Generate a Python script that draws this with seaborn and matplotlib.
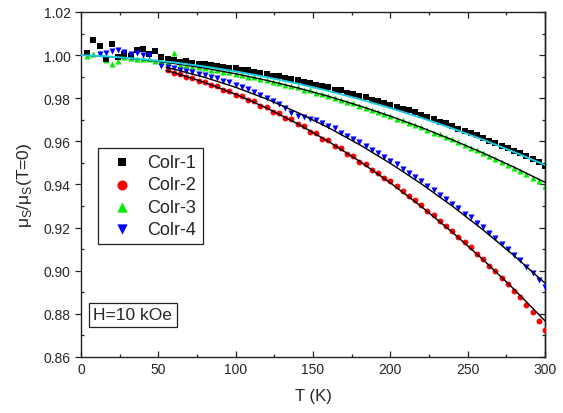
import numpy as np
import pandas as pd
import matplotlib
matplotlib.use("Agg")
import matplotlib.pyplot as plt
import seaborn as sns
from matplotlib.ticker import MultipleLocator, FormatStrFormatter

# measured points (T in K, mu_S / mu_S(T=0))
t_13 = np.arange(4, 301, 4)
colr1 = [1.0008, 1.0072, 1.0044, 0.9982, 1.0052, 0.9993, 1.0003, 0.9995, 1.0026, 1.0029,
         1.0005, 1.0021, 0.9990, 0.9981, 0.9978, 0.9968, 0.9975, 0.9962, 0.9958, 0.9960,
         0.9952, 0.9950, 0.9944, 0.9942, 0.9941, 0.9931, 0.9932, 0.9921, 0.9918, 0.9913,
         0.9905, 0.9903, 0.9893, 0.9890, 0.9884, 0.9875, 0.9872, 0.9862, 0.9858, 0.9850,
         0.9840, 0.9838, 0.9826, 0.9820, 0.9812, 0.9805, 0.9792, 0.9788, 0.9778, 0.9770,
         0.9761, 0.9752, 0.9744, 0.9735, 0.9722, 0.9713, 0.9704, 0.9690, 0.9683, 0.9671,
         0.9658, 0.9650, 0.9637, 0.9628, 0.9615, 0.9604, 0.9592, 0.9580, 0.9570, 0.9556,
         0.9545, 0.9530, 0.9519, 0.9505, 0.9488]
colr3 = [0.9998, 1.0006, 1.0012, 0.9976, 0.9961, 0.9972, 0.9993, 0.9986, 0.9980, 0.9981,
         0.9984, 0.9975, 0.9971, 0.9968, 1.0010, 0.9952, 0.9956, 0.9946, 0.9945, 0.9938,
         0.9933, 0.9931, 0.9922, 0.9921, 0.9911, 0.9909, 0.9900, 0.9898, 0.9888, 0.9885,
         0.9874, 0.9872, 0.9862, 0.9857, 0.9850, 0.9840, 0.9836, 0.9824, 0.9819, 0.9810,
         0.9799, 0.9794, 0.9781, 0.9776, 0.9764, 0.9757, 0.9745, 0.9738, 0.9726, 0.9718,
         0.9706, 0.9698, 0.9685, 0.9677, 0.9665, 0.9655, 0.9641, 0.9633, 0.9618, 0.9609,
         0.9595, 0.9585, 0.9570, 0.9560, 0.9544, 0.9534, 0.9518, 0.9505, 0.9490, 0.9476,
         0.9462, 0.9447, 0.9432, 0.9414, 0.9393]

t_2 = np.arange(56, 301, 4)
colr2 = [0.9929, 0.9915, 0.9913, 0.9897, 0.9895, 0.9880, 0.9876, 0.9861, 0.9856, 0.9838,
         0.9834, 0.9815, 0.9810, 0.9791, 0.9785, 0.9766, 0.9760, 0.9738, 0.9731, 0.9708,
         0.9702, 0.9679, 0.9673, 0.9645, 0.9640, 0.9612, 0.9608, 0.9577, 0.9571, 0.9542,
         0.9534, 0.9506, 0.9497, 0.9468, 0.9455, 0.9432, 0.9414, 0.9392, 0.9371, 0.9346,
         0.9327, 0.9303, 0.9279, 0.9257, 0.9231, 0.9208, 0.9184, 0.9158, 0.9131, 0.9108,
         0.9078, 0.9054, 0.9022, 0.8998, 0.8965, 0.8940, 0.8908, 0.8877, 0.8843, 0.8808,
         0.8768, 0.8727]

t_4 = np.concatenate([np.arange(12, 45, 4), np.arange(52, 301, 4)])
colr4 = [1.0004, 1.0010, 1.0018, 1.0024, 1.0013, 1.0007, 1.0009, 0.9999, 1.0002,
         0.9948, 0.9943, 0.9938, 0.9930, 0.9926, 0.9921, 0.9912, 0.9906, 0.9899, 0.9893,
         0.9881, 0.9874, 0.9862, 0.9853, 0.9841, 0.9829, 0.9817, 0.9800, 0.9788, 0.9775,
         0.9754, 0.9733, 0.9718, 0.9712, 0.9705, 0.9697, 0.9683, 0.9672, 0.9660, 0.9641,
         0.9627, 0.9609, 0.9596, 0.9578, 0.9561, 0.9545, 0.9527, 0.9510, 0.9493, 0.9472,
         0.9455, 0.9433, 0.9416, 0.9393, 0.9376, 0.9352, 0.9334, 0.9310, 0.9291, 0.9265,
         0.9247, 0.9220, 0.9201, 0.9173, 0.9154, 0.9126, 0.9103, 0.9074, 0.9048, 0.9018,
         0.8990, 0.8955, 0.8925]

# fitted curves
t_fit = [0, 20, 40, 60, 80, 100, 120, 140, 160, 180, 200, 220, 240, 260, 280, 300]
fit1 = [1.0, 0.99925, 0.99811, 0.99660, 0.99472, 0.99245, 0.98981, 0.98679, 0.98339,
        0.97961, 0.97546, 0.97093, 0.96602, 0.96074, 0.95507, 0.94903]
fit3 = [1.0, 0.99915, 0.99787, 0.99614, 0.99397, 0.99136, 0.98831, 0.98482, 0.98089,
        0.97651, 0.97170, 0.96645, 0.96075, 0.95461, 0.94804, 0.94102]
t_fit24 = [55, 60, 80, 100, 120, 140, 160, 180, 200, 220, 240, 260, 280, 300]
fit2 = [0.99286, 0.99187, 0.98732, 0.98186, 0.97548, 0.96818, 0.95996, 0.95083,
        0.94078, 0.92981, 0.91792, 0.90512, 0.89140, 0.87676]
fit4 = [0.99430, 0.99348, 0.98968, 0.98507, 0.97965, 0.97341, 0.96636, 0.95850,
        0.94982, 0.94033, 0.93003, 0.91892, 0.90699, 0.89425]

sns.set_style("ticks")
plt.rcParams["font.family"] = ["Liberation Sans", "DejaVu Sans"]
plt.rcParams["mathtext.fontset"] = "custom"
plt.rcParams["mathtext.rm"] = "Liberation Sans"

fig, ax = plt.subplots(figsize=(5.63, 4.14), dpi=100)
fig.subplots_adjust(left=0.1439, right=0.968, bottom=0.1353, top=0.9686)

sns.scatterplot(x=t_13, y=colr1, marker="s", color="black", s=13, linewidth=0,
                ax=ax, label="Colr-1", zorder=3)
sns.scatterplot(x=t_2, y=colr2, marker="o", color="#ff0000", s=18, linewidth=0,
                ax=ax, label="Colr-2", zorder=3)
sns.scatterplot(x=t_13, y=colr3, marker="^", color="#00ee00", s=19, linewidth=0,
                ax=ax, label="Colr-3", zorder=2)
sns.scatterplot(x=t_4, y=colr4, marker="v", color="#0000ff", s=19, linewidth=0,
                ax=ax, label="Colr-4", zorder=3)

sns.lineplot(x=t_fit, y=fit3, color="black", lw=1.0, ax=ax, legend=False, zorder=4)
sns.lineplot(x=t_fit, y=fit1, color="#1ecbe1", lw=1.4, ax=ax, legend=False, zorder=5)
sns.lineplot(x=t_fit24, y=fit2, color="black", lw=1.0, ax=ax, legend=False, zorder=4)
sns.lineplot(x=t_fit24, y=fit4, color="black", lw=1.0, ax=ax, legend=False, zorder=4)

ax.set_xlim(0, 300)
ax.set_ylim(0.86, 1.02)
ax.xaxis.set_major_locator(MultipleLocator(50))
ax.xaxis.set_minor_locator(MultipleLocator(25))
ax.yaxis.set_major_locator(MultipleLocator(0.02))
ax.yaxis.set_minor_locator(MultipleLocator(0.01))
ax.yaxis.set_major_formatter(FormatStrFormatter("%.2f"))

for s in ax.spines.values():
    s.set_visible(True)
    s.set_linewidth(1.0)
    s.set_color("#222222")

ax.tick_params(axis="both", which="both", top=True, right=False, labelsize=10,
               direction="in", width=0.9, color="#222222")
ax.tick_params(which="major", length=4)
ax.tick_params(which="minor", length=2.5)
ax.tick_params(axis="y", which="major", direction="out")

# right side ticks point inward
sec = ax.secondary_yaxis("right")
sec.yaxis.set_major_locator(MultipleLocator(0.02))
sec.yaxis.set_minor_locator(MultipleLocator(0.01))
sec.tick_params(which="both", direction="in", labelright=False, width=0.9,
                color="#222222")
sec.tick_params(which="major", length=4)
sec.tick_params(which="minor", length=2.5)
sec.spines["right"].set_linewidth(1.0)
sec.spines["right"].set_color("#222222")

ax.set_xlabel("T (K)", fontsize=12, labelpad=9)
ax.set_ylabel(r"μ$_\mathregular{S}$/μ$_\mathregular{S}$(T=0)", fontsize=12.5, labelpad=7)

handles, labels = ax.get_legend_handles_labels()
leg = ax.legend(handles, labels, loc="upper left", bbox_to_anchor=(0.036, 0.607),
                fontsize=13, markerscale=1.7, frameon=True, fancybox=False,
                edgecolor="#222222", framealpha=1, handletextpad=0.4,
                labelspacing=0.3, borderpad=0.35, handlelength=2.0,
                borderaxespad=0)
leg.get_frame().set_linewidth(0.9)

ax.text(8, 0.8795, "H=10 kOe", fontsize=12.5, va="center", ha="left",
        bbox=dict(boxstyle="square,pad=0.25", fc="white", ec="#222222", lw=0.9))

fig.savefig("out.png", dpi=100)
